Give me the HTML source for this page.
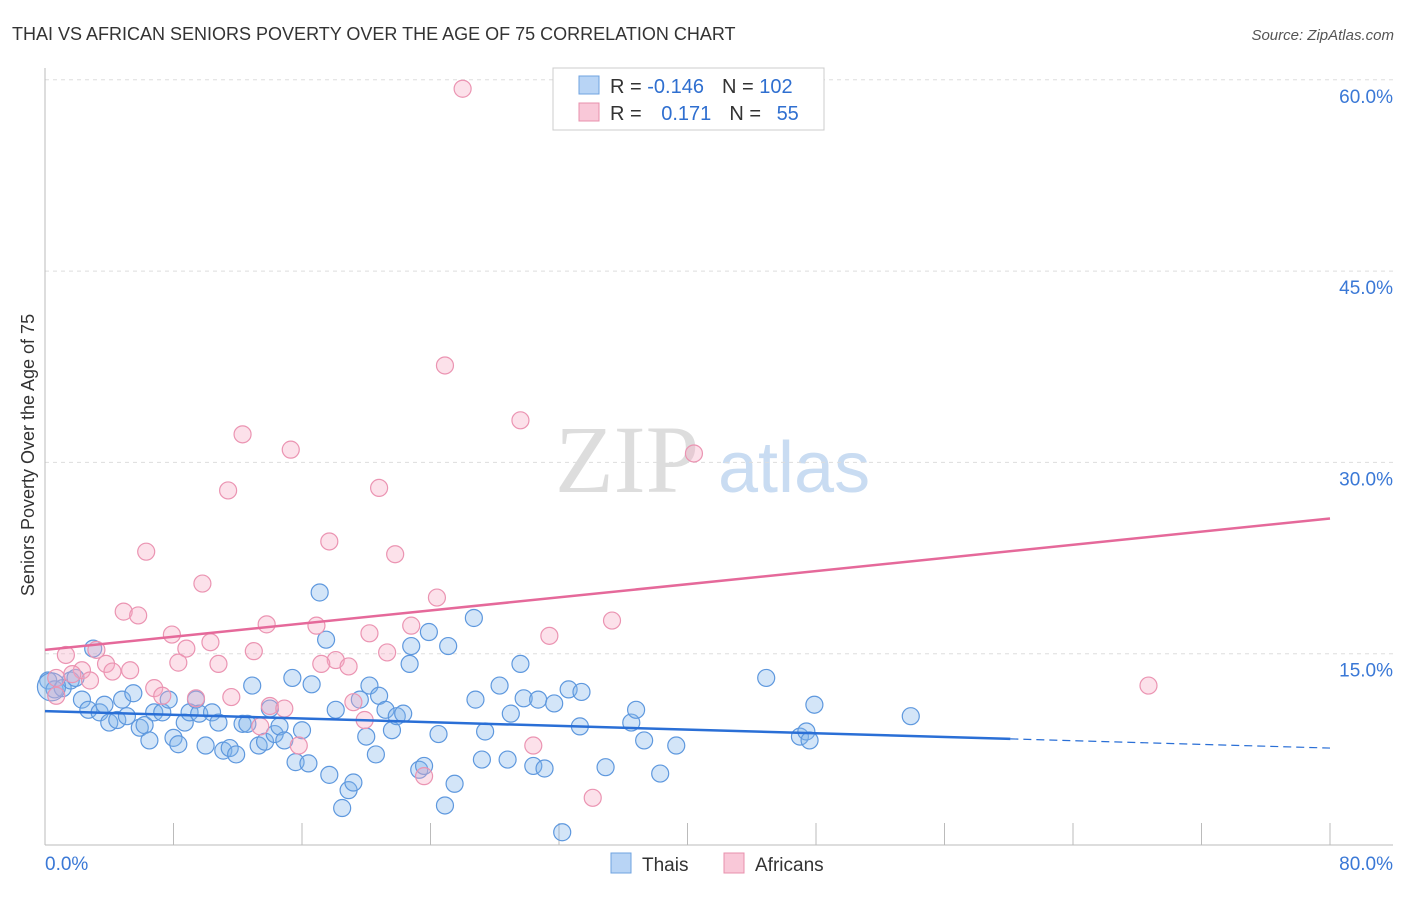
<!DOCTYPE html>
<html><head><meta charset="utf-8"><style>
body{margin:0;background:#fff;font-family:"Liberation Sans",sans-serif}
</style></head><body>
<svg width="1406" height="892" xmlns="http://www.w3.org/2000/svg" font-family="Liberation Sans, sans-serif">
<text x="12" y="40" font-size="18" fill="#333">THAI VS AFRICAN SENIORS POVERTY OVER THE AGE OF 75 CORRELATION CHART</text>
<text x="1394" y="40" font-size="15" fill="#555" font-style="italic" text-anchor="end">Source: ZipAtlas.com</text>
<text x="555" y="492" font-size="96" fill="#ddd" font-family="Liberation Serif, serif">ZIP</text>
<text x="718" y="492" font-size="72" fill="#c9dcf2">atlas</text>
<text transform="translate(34,455) rotate(-90)" font-size="18" fill="#333" text-anchor="middle">Seniors Poverty Over the Age of 75</text>
<g id="grid"></g><g id="axes"></g><g id="marks"></g><g id="trends"></g>
<g>
<rect x="553" y="68" width="271" height="62" fill="#fff" stroke="#ccc"/>
<rect x="579" y="76" width="20" height="18" fill="#b8d4f5" stroke="#6fa3e0"/>
<text x="610" y="93" font-size="20" fill="#333">R = <tspan fill="#2f6fd0">-0.146</tspan><tspan dx="18">N = </tspan><tspan fill="#2f6fd0">102</tspan></text>
<rect x="579" y="103" width="20" height="18" fill="#f9c8d8" stroke="#e890ad"/>
<text x="610" y="120" font-size="20" fill="#333">R = <tspan fill="#2f6fd0" dx="14">0.171</tspan><tspan dx="18">N = </tspan><tspan fill="#2f6fd0" dx="10">55</tspan></text>
</g>
<g>
<rect x="611" y="853" width="20" height="20" fill="#b8d4f5" stroke="#6fa3e0"/>
<text x="642" y="871" font-size="19" fill="#333">Thais</text>
<rect x="724" y="853" width="20" height="20" fill="#f9c8d8" stroke="#e890ad"/>
<text x="755" y="871" font-size="19" fill="#333">Africans</text>
</g>
</svg>
<script>
const yTicks=[15,30,45,60];
const yTickLabels=["15.0%","30.0%","45.0%","60.0%"];
const xTicks=[0,8,16,24,32,40,48,56,64,72,80];
const thaiX=[0.2,0.6,1.1,1.6,1.9,2.3,2.7,3.0,3.4,3.7,4.0,4.5,4.8,5.1,5.5,5.9,6.2,6.5,6.8,7.3,7.7,8.0,8.3,8.7,9.0,9.4,9.6,10.0,10.4,10.8,11.1,11.5,11.9,12.3,12.6,12.9,13.3,13.7,14.0,14.3,14.6,14.9,15.4,15.6,16.0,16.4,16.6,17.1,17.5,17.7,18.1,18.5,18.9,19.2,19.6,20.0,20.2,20.6,20.8,21.2,21.6,21.9,22.3,22.7,22.8,23.3,23.6,23.9,24.5,24.9,25.1,25.5,26.7,26.8,27.2,27.4,28.3,28.8,29.0,29.6,29.8,30.4,30.7,31.1,31.7,32.2,32.6,33.4,33.3,34.9,36.5,36.8,37.3,38.3,39.3,44.9,47.0,47.4,47.6,47.9,53.9,0.4];
const thaiY=[12.9,12.2,12.3,12.9,13.1,11.4,10.6,15.4,10.4,11.0,9.6,9.8,11.4,10.1,11.9,9.2,9.4,8.2,10.4,10.4,11.4,8.4,7.9,9.6,10.4,11.4,10.3,7.8,10.4,9.6,7.4,7.6,7.1,9.5,9.5,12.5,7.8,8.1,10.7,8.7,9.3,8.2,13.1,6.5,9.0,6.4,12.6,19.8,16.1,5.5,10.6,2.9,4.3,4.9,11.4,8.5,12.5,7.1,11.7,10.6,9.0,10.1,10.3,14.2,15.6,5.9,6.2,16.7,8.7,3.1,15.6,4.8,17.8,11.4,6.7,8.9,12.5,6.7,10.3,14.2,11.5,6.2,11.4,6.0,11.1,1.0,12.2,12.0,9.3,6.1,9.6,10.6,8.2,5.6,7.8,13.1,8.5,8.9,8.2,11.0,10.1,12.4];
const afrX=[26.0,24.9,29.6,12.3,15.3,40.4,20.8,11.4,17.7,6.3,21.8,9.8,24.4,4.9,5.8,13.8,22.8,35.3,16.9,7.9,20.2,31.4,10.3,8.8,13.0,21.3,3.2,1.3,18.1,17.2,18.9,8.3,3.8,10.8,2.3,5.3,4.2,1.7,0.7,68.7,2.8,6.8,7.3,9.4,11.6,14.0,14.9,19.2,19.9,0.7,13.4,15.8,30.4,23.6,34.1];
const afrY=[59.3,37.6,33.3,32.2,31.0,30.7,28.0,27.8,23.8,23.0,22.8,20.5,19.4,18.3,18.0,17.3,17.2,17.6,17.2,16.5,16.6,16.4,15.9,15.4,15.2,15.1,15.3,14.9,14.5,14.2,14.0,14.3,14.2,14.2,13.7,13.7,13.6,13.4,13.1,12.5,12.9,12.3,11.7,11.5,11.6,10.9,10.7,11.2,9.8,11.7,9.3,7.8,7.8,5.4,3.7];
const thaiTrend=[10.5,7.6];
const afrTrend=[15.3,25.6];
const NS="http://www.w3.org/2000/svg";
const sx=v=>45+v/80*1285, sy=v=>845-v/15*191.3;
function mk(t,a,p){const e=document.createElementNS(NS,t);for(const k in a)e.setAttribute(k,a[k]);document.getElementById(p).appendChild(e);return e;}
yTicks.forEach((t,i)=>{
 const l=mk('line',{x1:45,x2:1393,y1:sy(t),y2:sy(t),stroke:'#ddd','stroke-dasharray':'4,4'},'grid');
 
 
 const tx=mk('text',{x:1393,y:sy(t)+23,'font-size':19,fill:'#3a78d6','text-anchor':'end'},'axes');
 tx.textContent=yTickLabels[i];
 
 
});
const ya=mk('line',{x1:45,x2:45,y1:68,y2:845,stroke:'#bbb'},'axes');


const xa=mk('line',{x1:45,x2:1393,y1:845,y2:845,stroke:'#bbb'},'axes');


xTicks.forEach(t=>{
 const l=mk('line',{x1:sx(t),x2:sx(t),y1:823,y2:845,stroke:'#bbb'},'axes');
 
 
});
const x0=mk('text',{x:45,y:870,'font-size':19,fill:'#3a78d6'},'axes');x0.textContent='0.0%';


const x1=mk('text',{x:1393,y:870,'font-size':19,fill:'#3a78d6','text-anchor':'end'},'axes');x1.textContent='80.0%';


thaiX.forEach((x,i)=>{
 const c=mk('circle',{cx:sx(x),cy:sy(thaiY[i]),r:i==thaiX.length-1?14:8.5,fill:'rgba(130,180,235,0.35)',stroke:'#5e98de','stroke-width':1.2},'marks');
 
 
});
afrX.forEach((x,i)=>{
 const c=mk('circle',{cx:sx(x),cy:sy(afrY[i]),r:8.5,fill:'rgba(245,170,195,0.35)',stroke:'#eb94b2','stroke-width':1.2},'marks');
 
 
});
const tb=x=>thaiTrend[0]+(thaiTrend[1]-thaiTrend[0])*x/80;
const t1=mk('line',{x1:sx(0),y1:sy(tb(0)),x2:sx(60.1),y2:sy(tb(60.1)),stroke:'#2a6fd6','stroke-width':2.5},'trends');


const t2=mk('line',{x1:sx(60.1),y1:sy(tb(60.1)),x2:sx(80),y2:sy(tb(80)),stroke:'#2a6fd6','stroke-width':1.2,'stroke-dasharray':'8,5'},'trends');


const t3=mk('line',{x1:sx(0),y1:sy(afrTrend[0]),x2:sx(80),y2:sy(afrTrend[1]),stroke:'#e5699a','stroke-width':2.5},'trends');


</script>
</body></html>
